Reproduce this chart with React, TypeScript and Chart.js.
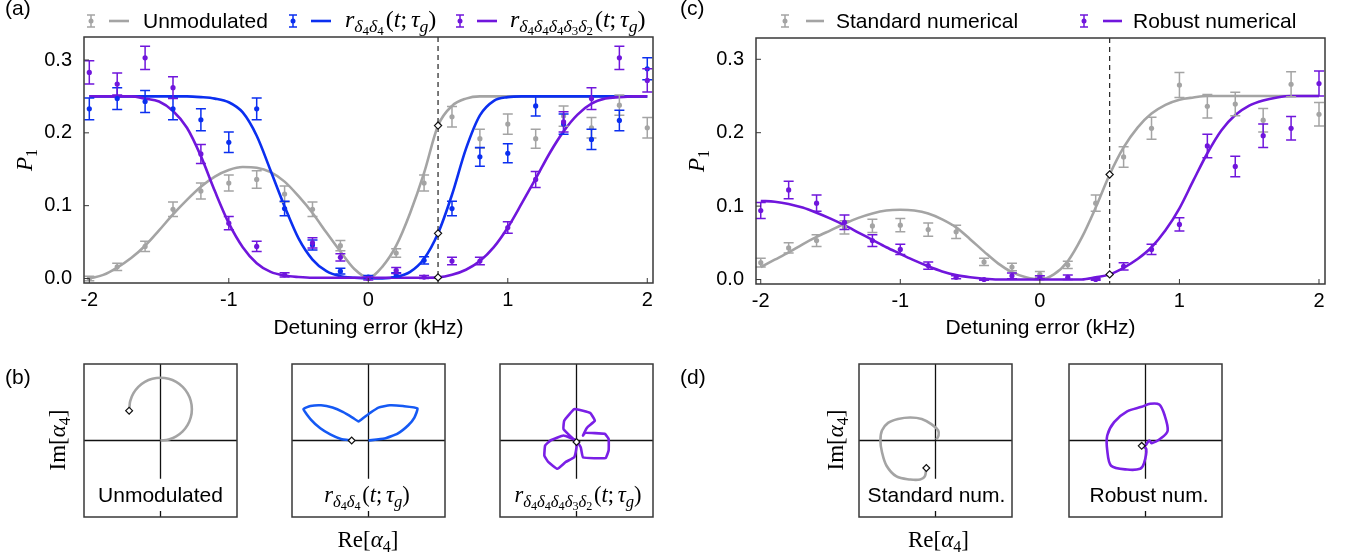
import React, { useEffect, useRef } from 'react';
import { Chart, registerables } from 'chart.js';

Chart.register(...registerables);

const SANS = '"Liberation Sans", Arial, Helvetica, sans-serif';
const SERIF = '"Liberation Serif", "Times New Roman", serif';
const GRAY = '#a4a4a4';
const BLUE = '#0b2ff0';
const PURPLE = '#7016dc';
const BLUE_LOOP = '#1559f4';
const PURPLE_LOOP = '#7a1fe6';
const FRAME = '#383838';

// ---------------- data: panels (a) and (c) ----------------
const detuning = [-2, -1.8, -1.6, -1.4, -1.2, -1, -0.8, -0.6, -0.4, -0.2, 0, 0.2, 0.4, 0.6, 0.8, 1, 1.2, 1.4, 1.6, 1.8, 2];
const xTickValues = [-2, -1, 0, 1, 2];
const yTickValues = [0, 0.1, 0.2, 0.3];
const curveX = [-2, -1.9, -1.8, -1.7, -1.6, -1.5, -1.4, -1.3, -1.2, -1.1, -1, -0.9, -0.8, -0.7, -0.6, -0.5, -0.4, -0.3, -0.2, -0.1, 0,
  0.1, 0.2, 0.3, 0.4, 0.5, 0.6, 0.7, 0.8, 0.9, 1, 1.1, 1.2, 1.3, 1.4, 1.5, 1.6, 1.7, 1.8, 1.9, 2];
const markerX = 0.5;

// (a) Unmodulated
const unmodP = [0.000, 0.016, 0.044, 0.095, 0.120, 0.131, 0.136, 0.116, 0.095, 0.045, 0.001, 0.035, 0.131, 0.222, 0.192, 0.212, 0.192, 0.223, 0.207, 0.238, 0.207];
const unmodErr = [0.003, 0.005, 0.007, 0.010, 0.011, 0.011, 0.012, 0.011, 0.010, 0.007, 0.002, 0.006, 0.011, 0.014, 0.013, 0.014, 0.013, 0.014, 0.014, 0.014, 0.014];
const unmodCurve = [0.000, 0.005, 0.015, 0.028, 0.045, 0.066, 0.088, 0.108, 0.126, 0.140, 0.149, 0.153, 0.152, 0.146, 0.133, 0.113, 0.090, 0.063, 0.037, 0.013, 0.001,
  0.016, 0.045, 0.090, 0.145, 0.210, 0.237, 0.247, 0.250, 0.250, 0.250, 0.250, 0.250, 0.250, 0.250, 0.250, 0.250, 0.250, 0.250, 0.250, 0.250];
const unmodMarker = 0.210;

// (a) r_{d4 d4}
const r44P = [0.233, 0.247, 0.243, 0.233, 0.218, 0.187, 0.233, 0.096, 0.046, 0.010, 0.002, 0.005, 0.025, 0.096, 0.167, 0.172, 0.237, 0.212, 0.191, 0.217, 0.288];
const r44Err = [0.015, 0.015, 0.015, 0.015, 0.015, 0.014, 0.015, 0.010, 0.007, 0.004, 0.002, 0.003, 0.005, 0.010, 0.013, 0.013, 0.014, 0.014, 0.014, 0.014, 0.015];
const r44Curve = [0.250, 0.250, 0.250, 0.250, 0.250, 0.250, 0.250, 0.250, 0.249, 0.247, 0.242, 0.228, 0.196, 0.148, 0.099, 0.055, 0.026, 0.010, 0.003, 0.001, 0.000,
  0.000, 0.002, 0.009, 0.027, 0.062, 0.115, 0.178, 0.224, 0.244, 0.249, 0.250, 0.250, 0.250, 0.250, 0.250, 0.250, 0.250, 0.250, 0.250, 0.250];
const r44Marker = 0.062;

// (a) r_{d4 d4 d4 d3 d2}
const r44432P = [0.283, 0.267, 0.303, 0.262, 0.171, 0.076, 0.044, 0.005, 0.049, 0.029, 0.000, 0.011, 0.002, 0.024, 0.024, 0.070, 0.136, 0.215, 0.247, 0.303, 0.272];
const r44432Err = [0.016, 0.015, 0.016, 0.015, 0.013, 0.009, 0.007, 0.003, 0.007, 0.005, 0.002, 0.004, 0.002, 0.005, 0.005, 0.008, 0.011, 0.014, 0.015, 0.016, 0.016];
const r44432Curve = [0.250, 0.250, 0.250, 0.250, 0.247, 0.243, 0.230, 0.207, 0.168, 0.120, 0.076, 0.043, 0.021, 0.009, 0.004, 0.002, 0.001, 0.001, 0.001, 0.001, 0.001,
  0.001, 0.001, 0.001, 0.001, 0.0015, 0.005, 0.012, 0.024, 0.043, 0.070, 0.103, 0.137, 0.172, 0.202, 0.225, 0.240, 0.247, 0.249, 0.250, 0.250];
const r44432Marker = 0.0015;

// (c) Standard numerical
const stdP = [0.023, 0.043, 0.053, 0.071, 0.073, 0.074, 0.068, 0.065, 0.024, 0.017, 0.007, 0.020, 0.104, 0.167, 0.206, 0.265, 0.236, 0.239, 0.217, 0.266, 0.225];
const stdErr = [0.006, 0.007, 0.008, 0.009, 0.009, 0.009, 0.009, 0.009, 0.005, 0.005, 0.004, 0.005, 0.011, 0.014, 0.015, 0.017, 0.016, 0.016, 0.016, 0.017, 0.016];
const stdCurve = [0.017, 0.027, 0.037, 0.048, 0.058, 0.067, 0.076, 0.084, 0.090, 0.094, 0.095, 0.094, 0.090, 0.082, 0.071, 0.055, 0.038, 0.022, 0.010, 0.003, 0.000,
  0.007, 0.025, 0.057, 0.098, 0.143, 0.180, 0.207, 0.226, 0.238, 0.245, 0.248, 0.250, 0.250, 0.250, 0.250, 0.250, 0.250, 0.250, 0.250, 0.250];
const stdMarker = 0.143;

// (c) Robust numerical
const robP = [0.094, 0.122, 0.104, 0.078, 0.053, 0.041, 0.019, 0.003, 0.000, 0.005, 0.003, 0.003, 0.000, 0.018, 0.041, 0.075, 0.182, 0.154, 0.196, 0.206, 0.267];
const robErr = [0.011, 0.012, 0.011, 0.010, 0.008, 0.007, 0.005, 0.002, 0.001, 0.004, 0.002, 0.003, 0.001, 0.005, 0.007, 0.009, 0.016, 0.014, 0.016, 0.016, 0.017];
const robCurve = [0.107, 0.106, 0.103, 0.098, 0.091, 0.083, 0.074, 0.064, 0.054, 0.044, 0.035, 0.026, 0.018, 0.011, 0.006, 0.003, 0.001, 0.000, 0.000, 0.000, 0.000,
  0.000, 0.000, 0.000, 0.003, 0.007, 0.016, 0.028, 0.044, 0.067, 0.097, 0.135, 0.172, 0.203, 0.224, 0.237, 0.244, 0.248, 0.250, 0.250, 0.250];
const robMarker = 0.007;

// ---------------- data: panels (b) and (d), alpha_4 trajectories ----------------
const unmodLoopRe = [-0.41, -0.405, -0.396, -0.355, -0.29, -0.205, -0.106, 0, 0.106, 0.205, 0.29, 0.355, 0.396, 0.41, 0.396, 0.355, 0.29, 0.205, 0.106, 0];
const unmodLoopIm = [0.39, 0.44, 0.516, 0.615, 0.70, 0.765, 0.806, 0.82, 0.806, 0.765, 0.70, 0.615, 0.516, 0.41, 0.304, 0.205, 0.12, 0.055, 0.014, 0];
const r44LoopRe = [-0.22, -0.36, -0.50, -0.63, -0.75, -0.85, -0.76, -0.62, -0.47, -0.33, -0.21, -0.13, -0.06, 0.02, 0.13, 0.28, 0.45, 0.64, 0.60, 0.52, 0.38, 0.21, 0.0];
const r44LoopIm = [0.0, 0.02, 0.08, 0.16, 0.27, 0.41, 0.45, 0.46, 0.43, 0.37, 0.30, 0.25, 0.30, 0.36, 0.43, 0.46, 0.45, 0.42, 0.30, 0.20, 0.09, 0.025, 0.0];
const r44432LoopRe = [0, -0.17, -0.16, -0.03, 0.085, 0.18, 0.24, 0.14, 0.085, 0.11, 0.37, 0.42, 0.42, 0.38, 0.085, 0.056, 0, -0.17, -0.34, -0.41, -0.42, -0.37, -0.25, -0.14, -0.03, 0, 0];
const r44432LoopIm = [-0.02, 0.15, 0.26, 0.41, 0.39, 0.36, 0.26, 0.17, 0.065, 0.10, 0.087, 0.02, -0.13, -0.23, -0.22, -0.09, 0, 0.065, 0, -0.065, -0.2, -0.28, -0.37, -0.28, -0.22, -0.09, -0.02];
const stdLoopRe = [-0.12, -0.14, -0.2, -0.33, -0.51, -0.64, -0.70, -0.72, -0.70, -0.62, -0.49, -0.33, -0.18, -0.05, 0.035, 0.04, 0.01];
const stdLoopIm = [-0.36, -0.47, -0.51, -0.51, -0.47, -0.33, -0.15, 0, 0.13, 0.23, 0.28, 0.30, 0.28, 0.21, 0.13, 0.065, 0.01];
const robLoopRe = [-0.05, 0.01, -0.02, -0.07, -0.24, -0.45, -0.5, -0.5, -0.41, -0.24, -0.05, 0.06, 0.18, 0.25, 0.29, 0.21, 0.08, 0.05, 0.0];
const robLoopIm = [-0.07, -0.11, -0.3, -0.37, -0.38, -0.33, -0.13, 0.065, 0.24, 0.38, 0.44, 0.48, 0.47, 0.33, 0.13, 0.035, -0.035, 0, -0.065];

// ---------------- math text helpers ----------------
type Seg = { t: string; it?: boolean; s?: number; dy?: number; dx?: number; sans?: boolean };
const it = (t: string): Seg => ({ t, it: true });
const rm = (t: string): Seg => ({ t });
const sub = (t: string): Seg => ({ t, it: true, s: 0.74, dy: 0.2 });
const subsub = (t: string): Seg => ({ t, s: 0.54, dy: 0.34 });
const tail: Seg[] = [{ t: '(', dx: 0.08 }, it('t'), rm(';'), { t: 'τ', it: true, dx: 0.16 }, sub('g'), rm(')')];
const rD44: Seg[] = [it('r'), sub('δ'), subsub('4'), sub('δ'), subsub('4'), ...tail];
const rD44432: Seg[] = [it('r'), sub('δ'), subsub('4'), sub('δ'), subsub('4'), sub('δ'), subsub('4'), sub('δ'), subsub('3'), sub('δ'), subsub('2'), ...tail];
const pTitle: Seg[] = [it('P'), { t: '1', s: 0.7, dy: 0.22 }];
const imTitle: Seg[] = [rm('Im['), it('α'), { t: '4', s: 0.7, dy: 0.2 }, rm(']')];
const reTitle: Seg[] = [rm('Re['), it('α'), { t: '4', s: 0.7, dy: 0.2 }, rm(']')];

function segFont(g: Seg, size: number) {
  return `${g.it ? 'italic ' : ''}${size * (g.s ?? 1)}px ${g.sans ? SANS : SERIF}`;
}
function drawSegs(ctx: CanvasRenderingContext2D, segs: Seg[] | string, x: number, y: number, size: number, align: string, color = '#000') {
  const list: Seg[] = typeof segs === 'string' ? [{ t: segs, sans: true }] : segs;
  const widths = list.map(g => { ctx.font = segFont(g, size); return ctx.measureText(g.t).width; });
  const total = widths.reduce((a, w, i) => a + w + (list[i].dx ?? 0) * size, 0);
  let cx = align === 'center' ? x - total / 2 : align === 'right' ? x - total : x;
  ctx.fillStyle = color; ctx.textAlign = 'left'; ctx.textBaseline = 'alphabetic';
  list.forEach((g, i) => {
    cx += (g.dx ?? 0) * size;
    ctx.font = segFont(g, size);
    ctx.fillText(g.t, cx, y + (g.dy ?? 0) * size);
    cx += widths[i];
  });
}

// ---------------- main panels ----------------
interface Series { color: string; points: number[]; errors: number[]; curve: number[]; marker: number; }
interface LegendItem { color: string; bar: number; line: [number, number]; text: number; label: Seg[] | string; }
interface MainSpec {
  left: number; width: number; height: number;
  xMin: number; xMax: number; yMin: number; yMax: number;
  padding: { left: number; right: number; top: number; bottom: number };
  yWidth: number; xHeight: number;
  series: Series[]; legend: LegendItem[];
  label: { text: string; x: number; y: number };
  pTitle: { x: number; y: number };
}

function makeMainDeco(spec: MainSpec) {
  return {
    id: 'mainDeco',
    beforeDatasetsDraw(chart: any) {
      const { ctx, chartArea: ca } = chart;
      const px = chart.scales.x.getPixelForValue(markerX);
      ctx.save();
      ctx.setLineDash([5, 4]); ctx.strokeStyle = '#222'; ctx.lineWidth = 1.2;
      ctx.beginPath(); ctx.moveTo(px, ca.top); ctx.lineTo(px, ca.bottom); ctx.stroke();
      ctx.restore();
    },
    afterDatasetDraw(chart: any, args: any) {
      const ds = chart.data.datasets[args.index];
      if (!ds.errors) return;
      const { ctx } = chart; const xs = chart.scales.x; const ys = chart.scales.y;
      ctx.save(); ctx.strokeStyle = ds.errColor; ctx.lineWidth = 1.5;
      ds.data.forEach((p: any, i: number) => {
        const px = xs.getPixelForValue(p.x);
        const y1 = ys.getPixelForValue(p.y - ds.errors[i]);
        const y2 = ys.getPixelForValue(p.y + ds.errors[i]);
        ctx.beginPath();
        ctx.moveTo(px, y1); ctx.lineTo(px, y2);
        ctx.moveTo(px - 5, y1); ctx.lineTo(px + 5, y1);
        ctx.moveTo(px - 5, y2); ctx.lineTo(px + 5, y2);
        ctx.stroke();
      });
      ctx.restore();
    },
    afterDraw(chart: any) {
      const { ctx, chartArea: ca } = chart;
      const xs = chart.scales.x; const ys = chart.scales.y;
      ctx.save();
      ctx.strokeStyle = FRAME; ctx.lineWidth = 1.5;
      ctx.strokeRect(ca.left, ca.top, ca.right - ca.left, ca.bottom - ca.top);
      ctx.lineWidth = 1;
      ctx.beginPath();
      xTickValues.forEach(v => { const p = xs.getPixelForValue(v); ctx.moveTo(p, ca.bottom); ctx.lineTo(p, ca.bottom - 5); });
      yTickValues.forEach(v => { const p = ys.getPixelForValue(v); ctx.moveTo(ca.left, p); ctx.lineTo(ca.left + 5, p); });
      ctx.stroke();
      const cy = 21;
      spec.legend.forEach(item => {
        ctx.strokeStyle = item.color; ctx.fillStyle = item.color; ctx.lineWidth = 1.5;
        ctx.beginPath();
        ctx.moveTo(item.bar, cy - 6); ctx.lineTo(item.bar, cy + 6);
        ctx.moveTo(item.bar - 4, cy - 6); ctx.lineTo(item.bar + 4, cy - 6);
        ctx.moveTo(item.bar - 4, cy + 6); ctx.lineTo(item.bar + 4, cy + 6);
        ctx.stroke();
        ctx.beginPath(); ctx.arc(item.bar, cy, 2.5, 0, Math.PI * 2); ctx.fill();
        ctx.lineWidth = 2.6;
        ctx.beginPath(); ctx.moveTo(item.line[0], cy); ctx.lineTo(item.line[1], cy); ctx.stroke();
        if (typeof item.label === 'string') drawSegs(ctx, item.label, item.text, 28, 21, 'left');
        else drawSegs(ctx, item.label, item.text, 27, 24, 'left');
      });
      drawSegs(ctx, spec.label.text, spec.label.x, spec.label.y, 21, 'left');
      ctx.save();
      ctx.translate(spec.pTitle.x, spec.pTitle.y);
      ctx.rotate(-Math.PI / 2);
      drawSegs(ctx, pTitle, 0, 0, 23, 'center');
      ctx.restore();
      ctx.restore();
    },
  };
}

function mainConfig(spec: MainSpec): any {
  const datasets: any[] = [];
  datasets.push({
    type: 'scatter',
    data: spec.series.map(s => ({ x: markerX, y: s.marker })),
    pointStyle: 'rectRot', pointRadius: 3.6, pointBackgroundColor: '#ffffff', pointBorderColor: '#111111', pointBorderWidth: 1.2,
  });
  spec.series.forEach(s => datasets.push({
    type: 'scatter',
    data: detuning.map((x, i) => ({ x, y: s.points[i] })),
    errors: s.errors, errColor: s.color,
    pointRadius: 2.6, pointBackgroundColor: s.color, pointBorderColor: s.color, pointBorderWidth: 0,
  }));
  spec.series.forEach(s => datasets.push({
    type: 'line',
    data: curveX.map((x, i) => ({ x, y: s.curve[i] })),
    borderColor: s.color, borderWidth: 2.6, pointRadius: 0, fill: false, cubicInterpolationMode: 'monotone',
  }));
  const tickFont = { family: SANS, size: 20 };
  return {
    type: 'scatter',
    data: { datasets },
    options: {
      animation: false, responsive: false, devicePixelRatio: 1, events: [],
      layout: { padding: spec.padding },
      plugins: { legend: { display: false }, tooltip: { enabled: false } },
      scales: {
        x: {
          type: 'linear', min: spec.xMin, max: spec.xMax,
          afterBuildTicks: (s: any) => { s.ticks = xTickValues.map(v => ({ value: v })); },
          afterFit: (s: any) => { s.height = spec.xHeight; },
          grid: { display: false }, border: { display: false },
          ticks: { font: tickFont, color: '#000', padding: -3, maxRotation: 0, autoSkip: false, callback: (v: any) => String(v) },
          title: { display: true, text: 'Detuning error (kHz)', color: '#000', font: { family: SANS, size: 21 }, padding: { top: 0, bottom: 4 } },
        },
        y: {
          type: 'linear', min: spec.yMin, max: spec.yMax,
          afterBuildTicks: (s: any) => { s.ticks = yTickValues.map(v => ({ value: v })); },
          afterFit: (s: any) => { s.width = spec.yWidth; },
          grid: { display: false }, border: { display: false },
          ticks: { font: tickFont, color: '#000', padding: 4, callback: (v: any) => Number(v).toFixed(1) },
        },
      },
    },
    plugins: [makeMainDeco(spec)],
  };
}

const specA: MainSpec = {
  left: 0, width: 676, height: 345,
  xMin: -2.038, xMax: 2.041, yMin: -0.0062, yMax: 0.3316,
  padding: { left: 0, right: 23, top: 37, bottom: 0 }, yWidth: 84, xHeight: 62,
  series: [
    { color: PURPLE, points: r44432P, errors: r44432Err, curve: r44432Curve, marker: r44432Marker },
    { color: BLUE, points: r44P, errors: r44Err, curve: r44Curve, marker: r44Marker },
    { color: GRAY, points: unmodP, errors: unmodErr, curve: unmodCurve, marker: unmodMarker },
  ],
  legend: [
    { color: GRAY, bar: 91, line: [109, 129], text: 143, label: 'Unmodulated' },
    { color: BLUE, bar: 293, line: [311, 331], text: 345, label: rD44 },
    { color: PURPLE, bar: 460, line: [477, 497], text: 510, label: rD44432 },
  ],
  label: { text: '(a)', x: 5, y: 15 },
  pTitle: { x: 32, y: 160 },
};

const specC: MainSpec = {
  left: 676, width: 677, height: 345,
  xMin: -2.034, xMax: 2.043, yMin: -0.0061, yMax: 0.329,
  padding: { left: 0, right: 28, top: 38, bottom: 0 }, yWidth: 80, xHeight: 61,
  series: [
    { color: PURPLE, points: robP, errors: robErr, curve: robCurve, marker: robMarker },
    { color: GRAY, points: stdP, errors: stdErr, curve: stdCurve, marker: stdMarker },
  ],
  legend: [
    { color: GRAY, bar: 109, line: [130, 148], text: 160, label: 'Standard numerical' },
    { color: PURPLE, bar: 408, line: [427, 446], text: 457, label: 'Robust numerical' },
  ],
  label: { text: '(c)', x: 4, y: 15 },
  pTitle: { x: 28, y: 161 },
};

// ---------------- small trajectory boxes ----------------
interface TextItem { segs: Seg[] | string; x: number; y: number; size: number; rotate?: boolean }
interface BoxSpec {
  canvas: { l: number; t: number; w: number; h: number };
  box: { x: number; y: number; s: number };
  re: number[]; im: number[]; color: string; tension: number;
  label: Seg[] | string; labelX: number;
  extras: TextItem[];
}

function makeBoxDeco(spec: BoxSpec) {
  return {
    id: 'boxDeco',
    beforeDatasetsDraw(chart: any) {
      const { ctx, chartArea: ca } = chart;
      const cx = chart.scales.x.getPixelForValue(0);
      const cy = chart.scales.y.getPixelForValue(0);
      const stop = chart.scales.y.getPixelForValue(-0.5);
      ctx.save(); ctx.strokeStyle = '#111'; ctx.lineWidth = 1.3;
      ctx.beginPath();
      ctx.moveTo(ca.left, cy); ctx.lineTo(ca.right, cy);
      ctx.moveTo(cx, ca.top); ctx.lineTo(cx, stop);
      ctx.moveTo(cx, ca.bottom); ctx.lineTo(cx, ca.bottom - 6);
      ctx.stroke(); ctx.restore();
    },
    afterDraw(chart: any) {
      const { ctx, chartArea: ca } = chart;
      const ox = spec.canvas.l; const oy = spec.canvas.t;
      ctx.save();
      ctx.strokeStyle = FRAME; ctx.lineWidth = 1.5;
      ctx.strokeRect(ca.left, ca.top, ca.right - ca.left, ca.bottom - ca.top);
      if (typeof spec.label === 'string') drawSegs(ctx, spec.label, spec.labelX - ox, 502 - oy, 21, 'center');
      else drawSegs(ctx, spec.label, spec.labelX - ox, 502 - oy, 22.5, 'center');
      spec.extras.forEach(e => {
        if (e.rotate) {
          ctx.save(); ctx.translate(e.x - ox, e.y - oy); ctx.rotate(-Math.PI / 2);
          drawSegs(ctx, e.segs, 0, 0, e.size, 'center'); ctx.restore();
        } else {
          drawSegs(ctx, e.segs, e.x - ox, e.y - oy, e.size, typeof e.segs === 'string' ? 'left' : 'center');
        }
      });
      ctx.restore();
    },
  };
}

function boxConfig(spec: BoxSpec): any {
  const { canvas: c, box: b } = spec;
  return {
    type: 'scatter',
    data: {
      datasets: [
        {
          data: [{ x: spec.re[0], y: spec.im[0] }],
          pointStyle: 'rectRot', pointRadius: 3.4, pointBackgroundColor: '#ffffff', pointBorderColor: '#111111', pointBorderWidth: 1.2,
        },
        {
          data: spec.re.map((x, i) => ({ x, y: spec.im[i] })),
          showLine: true, borderColor: spec.color, borderWidth: 2.6, pointRadius: 0, tension: spec.tension, fill: false,
        },
      ],
    },
    options: {
      animation: false, responsive: false, devicePixelRatio: 1, events: [],
      layout: { padding: { left: b.x - c.l, top: b.y - c.t, right: c.l + c.w - (b.x + b.s), bottom: c.t + c.h - (b.y + b.s) } },
      plugins: { legend: { display: false }, tooltip: { enabled: false } },
      scales: {
        x: { type: 'linear', display: false, min: -1, max: 1 },
        y: { type: 'linear', display: false, min: -1, max: 1 },
      },
    },
    plugins: [makeBoxDeco(spec)],
  };
}

const boxes: BoxSpec[] = [
  {
    canvas: { l: 0, t: 345, w: 262, h: 214 }, box: { x: 84, y: 364, s: 153 },
    re: unmodLoopRe, im: unmodLoopIm, color: GRAY, tension: 0.4, label: 'Unmodulated', labelX: 160.5,
    extras: [
      { segs: '(b)', x: 5, y: 384, size: 21 },
      { segs: imTitle, x: 65, y: 440, size: 23, rotate: true },
    ],
  },
  {
    canvas: { l: 262, t: 345, w: 210, h: 214 }, box: { x: 292, y: 364, s: 153 },
    re: r44LoopRe, im: r44LoopIm, color: BLUE_LOOP, tension: 0.15, label: rD44, labelX: 367,
    extras: [{ segs: reTitle, x: 368, y: 547, size: 23 }],
  },
  {
    canvas: { l: 472, t: 345, w: 204, h: 214 }, box: { x: 500, y: 364, s: 153 },
    re: r44432LoopRe, im: r44432LoopIm, color: PURPLE_LOOP, tension: 0.1, label: rD44432, labelX: 578,
    extras: [],
  },
  {
    canvas: { l: 676, t: 345, w: 372, h: 214 }, box: { x: 859, y: 364, s: 153 },
    re: stdLoopRe, im: stdLoopIm, color: GRAY, tension: 0.35, label: 'Standard num.', labelX: 936.5,
    extras: [
      { segs: '(d)', x: 680, y: 384, size: 21 },
      { segs: imTitle, x: 843, y: 440, size: 23, rotate: true },
      { segs: reTitle, x: 938.5, y: 547, size: 23 },
    ],
  },
  {
    canvas: { l: 1048, t: 345, w: 305, h: 214 }, box: { x: 1069, y: 364, s: 153 },
    re: robLoopRe, im: robLoopIm, color: PURPLE_LOOP, tension: 0.3, label: 'Robust num.', labelX: 1149,
    extras: [],
  },
];

// ---------------- components ----------------
function ChartCanvas({ left, top, width, height, build }: { left: number; top: number; width: number; height: number; build: () => any }) {
  const ref = useRef<HTMLCanvasElement>(null);
  useEffect(() => {
    const chart = new Chart(ref.current as HTMLCanvasElement, build());
    return () => chart.destroy();
  }, []);
  return (
    <canvas ref={ref} width={width} height={height}
      style={{ position: 'absolute', left, top, width, height, display: 'block' }} />
  );
}

export default function App() {
  return (
    <div style={{ position: 'fixed', left: 0, top: 0, width: 1353, height: 559, background: '#ffffff', overflow: 'hidden' }}>
      <ChartCanvas left={specA.left} top={0} width={specA.width} height={specA.height} build={() => mainConfig(specA)} />
      <ChartCanvas left={specC.left} top={0} width={specC.width} height={specC.height} build={() => mainConfig(specC)} />
      {boxes.map((b, i) => (
        <ChartCanvas key={i} left={b.canvas.l} top={b.canvas.t} width={b.canvas.w} height={b.canvas.h} build={() => boxConfig(b)} />
      ))}
    </div>
  );
}
